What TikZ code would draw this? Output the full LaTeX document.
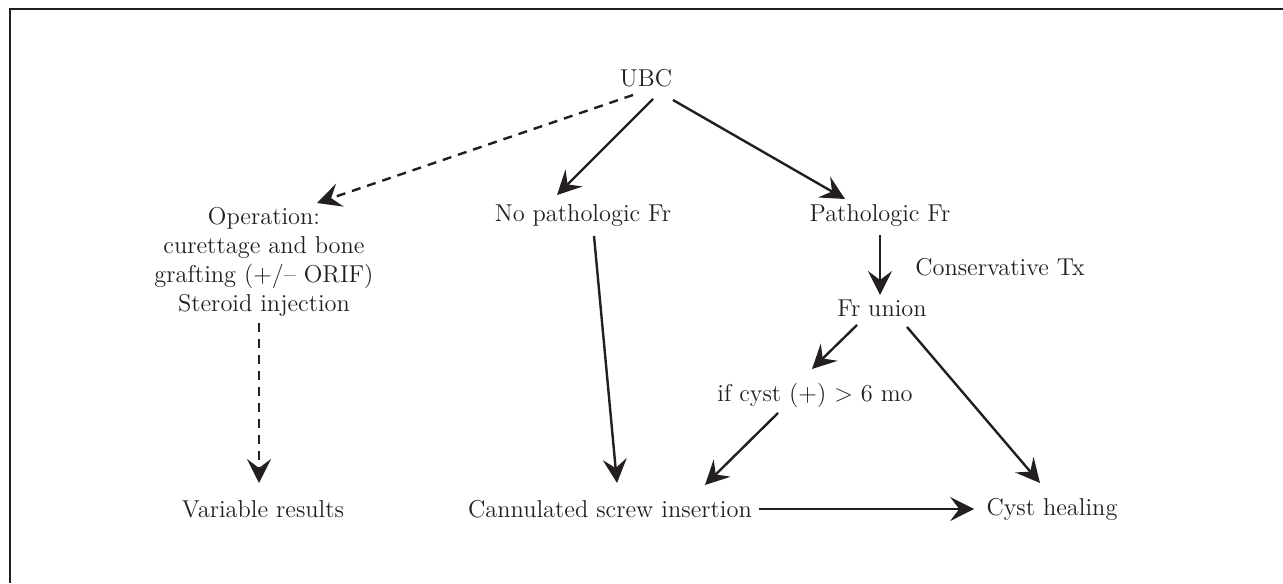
\documentclass[tikz,border=0pt]{standalone}
\usepackage{amsmath}
\usepackage{xcolor}
\usetikzlibrary{arrows.meta}
\definecolor{ink}{RGB}{35,31,32}

\begin{document}
\begin{tikzpicture}[x=0.5pt,y=-0.5pt]
	\tikzset{every node/.style={font=\fontsize{12.2}{14.5}\selectfont,text=ink,inner sep=0pt}}
	\tikzset{flow/.style={draw=ink,line width=1.2pt,-{Stealth[length=12pt,width=12pt,inset=4.5pt]}}}
	\tikzset{maybe/.style={flow,dash pattern=on 4.5pt off 3.5pt}}
	\useasboundingbox (0,0) rectangle (1283,583);
	\draw[ink,line width=1pt] (1283,9) -- (10,9) -- (10,583);
	% nodes
	\node (ubc) at (646,78) {UBC};
	\node[align=center] (op) at (264,262) {Operation:\\curettage and bone\\grafting (+/-- ORIF)\\Steroid injection};
	\node (nopath) at (583,216) {No pathologic Fr};
	\node (path) at (880,216) {Pathologic Fr};
	\node (cons) at (1000,267) {Conservative Tx};
	\node (union) at (882,308) {Fr union};
	\node (ifcyst) at (815,395) {if cyst (+) \textgreater{} 6 mo};
	\node (var) at (263,509) {Variable results};
	\node (screw) at (610,509) {Cannulated screw insertion};
	\node (heal) at (1052,509) {Cyst healing};
	% connectors
	\draw[maybe] ([shift={(-13,17)}]ubc.center) -- ([shift={(53,-59)}]op.center);
	\draw[flow] ([shift={(7,21)}]ubc.center) -- ([shift={(-26,-21)}]nopath.center);
	\draw[flow] ([shift={(27,22)}]ubc.center) -- ([shift={(-35,-17)}]path.center);
	\draw[maybe] ([shift={(-5,61)}]op.center) -- ([shift={(-4,-26)}]var.center);
	\draw[flow] ([shift={(11,20)}]nopath.center) -- ([shift={(7,-26)}]screw.center);
	\draw[flow] ([shift={(0,19)}]path.center) -- ([shift={(-2,-13)}]union.center);
	\draw[flow] ([shift={(-25,17)}]union.center) -- ([shift={(-3,-26)}]ifcyst.center);
	\draw[flow] ([shift={(25,19)}]union.center) -- ([shift={(-12,-26)}]heal.center);
	\draw[flow] ([shift={(-37,18)}]ifcyst.center) -- ([shift={(95,-24)}]screw.center);
	\draw[flow] ([xshift=3.5pt]screw.east) -- ([xshift=-6pt]heal.west);
\end{tikzpicture}
\end{document}
